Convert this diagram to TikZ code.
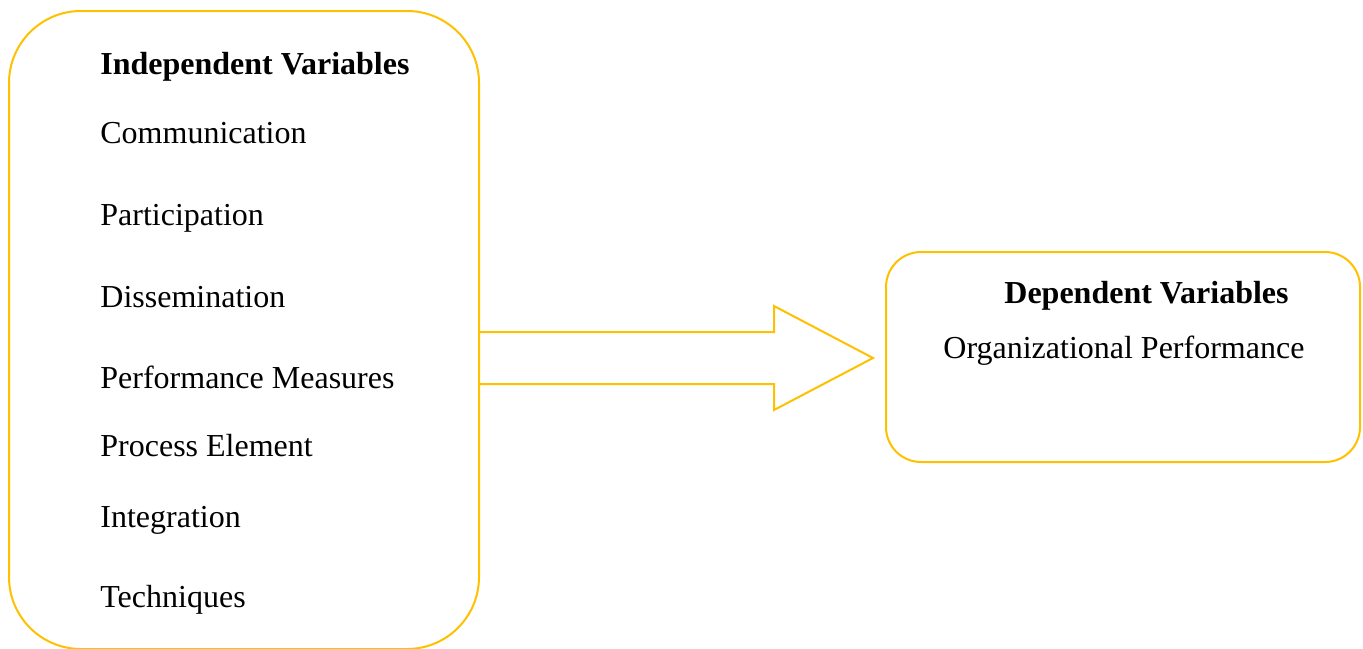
\documentclass[tikz,border=0pt]{standalone}
\usepackage{fontspec}
\setmainfont{Liberation Serif}
\usepackage{tikz}
\usetikzlibrary{calc}
\definecolor{boxyellow}{HTML}{FFC000}
\tikzset{
  varbox/.style={draw=boxyellow, line width=1pt, rectangle, inner sep=0pt, outer sep=0pt},
  vartext/.style={anchor=base west, inner sep=0pt, font=\fontsize{16pt}{19pt}\selectfont},
  vartitle/.style={vartext, font=\fontsize{16pt}{19pt}\selectfont\bfseries},
  arrowline/.style={draw=boxyellow, line width=1pt, line join=miter}
}
\begin{document}
\begin{tikzpicture}[x=0.5pt, y=-0.5pt]
		\useasboundingbox (0,0) rectangle (1363,648);
		% boxes
		\node[varbox, rounded corners=36pt, minimum width=235pt, minimum height=319pt] (indep) at (244,330) {};
		\node[varbox, rounded corners=17.5pt, minimum width=237pt, minimum height=105pt] (dep) at (1123,357) {};
		% left list
		\node[vartitle] (indeptitle) at (100,74) {Independent Variables};
		\node[vartext] (comm) at (100,143) {Communication};
		\node[vartext] (part) at (100,225) {Participation};
		\node[vartext] (diss) at (100,307) {Dissemination};
		\node[vartext] (perf) at (100,388) {Performance Measures};
		\node[vartext] (proc) at (100,456) {Process Element};
		\node[vartext] (integ) at (100,527) {Integration};
		\node[vartext] (tech) at (100,607) {Techniques};
		% right box text
		\node[vartitle] (deptitle) at (1004,303) {Dependent Variables};
		\node[vartext] (orgperf) at (943,358) {Organizational Performance};
		% block arrow
		\coordinate (tip) at ($(dep.west)+(-13,1)$);
		\draw[arrowline] (indep.east |- tip) ++(0,-26) -- ++(295,0) -- ++(0,-26) -- (tip)
			-- ++(-99,52) -- ++(0,-26) -- ++(-295,0);
\end{tikzpicture}
\end{document}
